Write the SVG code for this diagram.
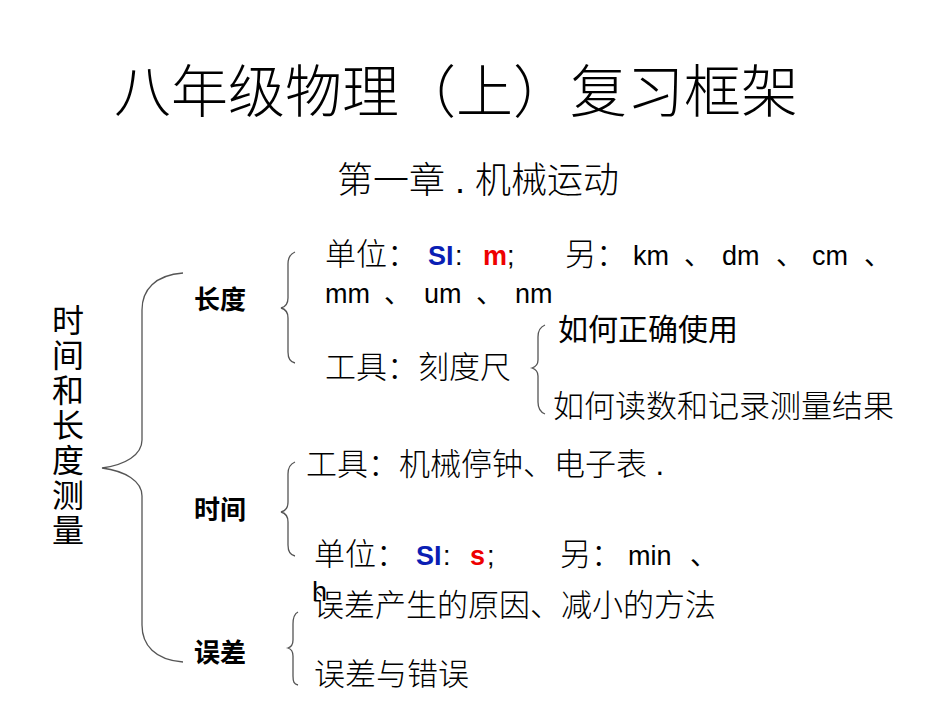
<svg xmlns="http://www.w3.org/2000/svg" width="950" height="713" viewBox="0 0 950 713">
<style>
text{font-family:"Liberation Sans","Noto Sans CJK SC",sans-serif;fill:#000}
.c{font-size:31px;font-weight:300}
.b{font-size:26px;font-weight:bold}
.l{font-size:27px}
.br{fill:none;stroke:#555;stroke-width:1.3}
.blue{fill:#0a1eb4;font-weight:bold}
.red{fill:#e00;font-weight:bold}
</style>
<rect width="950" height="713" fill="#fff"/>
<g id="title"><text x="456" y="112" font-size="57" text-anchor="middle" font-weight="300">八年级物理（上）复习框架</text></g>
<g id="subtitle"><text x="478" y="193" font-size="36" text-anchor="middle" font-weight="300">第一章 . 机械运动</text></g>
<g id="root"><text x="68" font-size="32" text-anchor="middle" font-weight="400"><tspan x="68" y="332">时</tspan><tspan x="68" y="367">间</tspan><tspan x="68" y="402">和</tspan><tspan x="68" y="437">长</tspan><tspan x="68" y="472">度</tspan><tspan x="68" y="507">测</tspan><tspan x="68" y="542">量</tspan></text></g>
<g id="connectors">
<path class="br" d="M183,273 C155,275 142,290 142,310 L142,440 C142,455 125,465 102,468 C125,471 142,481 142,496 L142,625 C142,645 155,660 183,662"/>
<path class="br" d="M295,252 C290,254 288,258 288,264 L288,298 C288,304 285,307 281,308 C285,309 288,312 288,318 L288,352 C288,358 290,362 295,363"/>
<path class="br" d="M295,462 C290,464 288,468 288,474 L288,502 C288,508 285,511 281,512 C285,513 288,516 288,522 L288,545 C288,551 290,555 295,556"/>
<path class="br" d="M298,612 C294,614 293,618 293,624 L293,640 C293,645 291,647 288,648 C291,649 293,651 293,656 L293,676 C293,682 294,684 298,685"/>
<path class="br" d="M545,325 C540,327 538,331 538,337 L538,360 C538,365 535,367 532,368 C535,369 538,371 538,376 L538,402 C538,408 540,412 545,414"/>
</g>
<g id="n-length"><text class="b" x="194" y="309">长度</text></g>
<g id="n-time"><text class="b" x="194" y="519">时间</text></g>
<g id="n-error"><text class="b" x="194" y="662">误差</text></g>
<g id="length-unit"><text class="l" y="265"><tspan class="c" x="325">单位：</tspan><tspan class="blue" x="428">SI</tspan><tspan x="455">:</tspan><tspan class="red" x="483">m</tspan><tspan x="507">;</tspan><tspan class="c" x="565">另：</tspan><tspan x="633">km</tspan><tspan x="684">、</tspan><tspan x="722">dm</tspan><tspan x="776">、</tspan><tspan x="812">cm</tspan><tspan x="864">、</tspan></text>
<text class="l" y="303"><tspan x="325">mm</tspan><tspan x="384">、</tspan><tspan x="424">um</tspan><tspan x="476">、</tspan><tspan x="515">nm</tspan></text></g>
<g id="length-tool"><text class="c" x="325" y="378">工具：刻度尺</text></g>
<g id="use"><text x="558" y="340" font-size="30" font-weight="400">如何正确使用</text></g>
<g id="read"><text class="c" x="553" y="417">如何读数和记录测量结果</text></g>
<g id="time-tool"><text class="c" x="306" y="475">工具：机械停钟、电子表 .</text></g>
<g id="time-unit"><text class="l" y="565"><tspan class="c" x="314">单位：</tspan><tspan class="blue" x="416">SI</tspan><tspan x="443">:</tspan><tspan class="red" x="470">s</tspan><tspan x="487">;</tspan><tspan class="c" x="560">另：</tspan><tspan x="628">min</tspan><tspan x="690">、</tspan></text>
<text class="l" x="312" y="601">h</text></g>
<g id="err-cause"><text class="c" x="313" y="616">误差产生的原因、减小的方法</text></g>
<g id="err-mistake"><text class="c" x="314" y="685">误差与错误</text></g>
</svg>
